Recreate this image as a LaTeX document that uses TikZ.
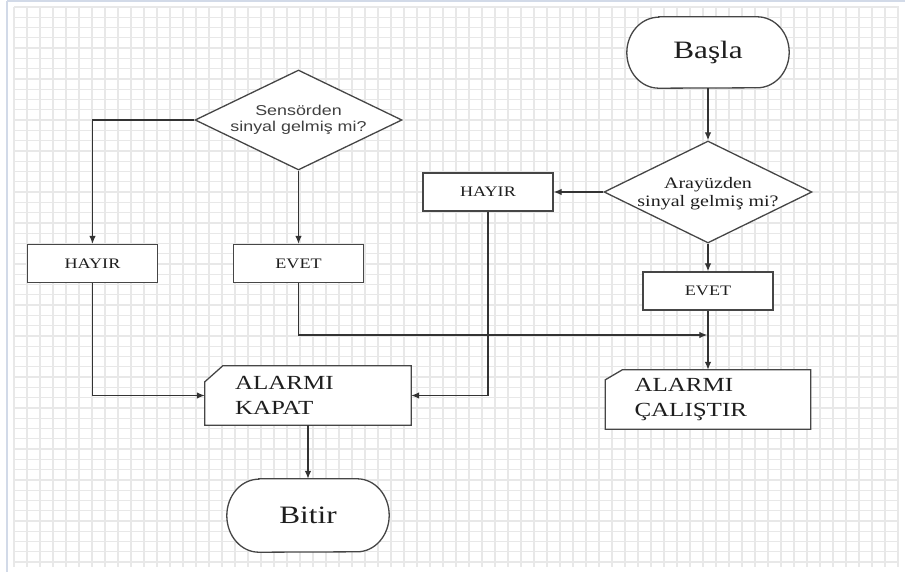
\documentclass[tikz,border=0pt]{standalone}
\usepackage{fontspec}
\setmainfont{Liberation Serif}
\newfontfamily\arialf{Liberation Sans}
\usepackage{graphicx}
\usetikzlibrary{shapes.geometric,arrows.meta}
\newcommand\hstr[1]{\scalebox{1.25}[1]{#1}}
\definecolor{gridc}{RGB}{232,232,232}
\definecolor{edgec}{RGB}{70,70,70}
\definecolor{framec}{RGB}{210,218,232}
\definecolor{txtc}{RGB}{30,30,30}
\pgfdeclarelayer{gridlayer}
\pgfdeclarelayer{shapelayer}
\pgfsetlayers{gridlayer,shapelayer,main}
\begin{document}
\begin{tikzpicture}[x=1pt,y=-1pt,
  box/.style={draw=edgec,line width=1.3pt,fill=white,inner sep=0pt},
  term/.style={inner sep=0pt,minimum width=162pt,minimum height=71pt,font=\fontsize{25}{30}\selectfont,text=txtc},
  smallbox/.style={box,minimum width=130pt,minimum height=38pt,font=\fontsize{14.5}{17}\selectfont,text=txtc},
  dec/.style={box,shape=diamond,minimum width=207pt,minimum height=100pt},
  io/.style={inner sep=0pt,inner xsep=29pt,minimum height=59pt,align=left,text width=147pt,font=\fontsize{20}{24.5}\selectfont,text=txtc},
  conn/.style={draw=black!80,line width=1.2pt,-{Latex[length=8pt,width=6.5pt]}},
  gridl/.style={draw=gridc,line width=1.3pt},
  framel/.style={draw=framec,line width=1.5pt}]
\useasboundingbox (0,0) rectangle (905,572);
\begin{pgfonlayer}{gridlayer}
  \fill[white] (0,0) rectangle (905,572);
  \foreach \i in {0,...,68} \draw[gridl] (14+13*\i,7) -- (14+13*\i,567);
  \foreach \j in {0,...,54} \draw[gridl] (14,7+10.28*\j) -- (899,7+10.28*\j);
  \draw[framel] (7,0.8) -- (7,572);
  \draw[framel] (7,0.8) -- (905,0.8);
\end{pgfonlayer}

% terminals
\node[term] (basla) at (708,52.5) {\hstr{Başla}};
\node[term,minimum height=73pt] (bitir) at (308,515.5) {\hstr{Bitir}};

% decisions
\node[dec] (d1) at (298.5,120) {};
\node[font=\arialf\fontsize{14.3}{15.5}\selectfont,text=black!75,align=center,inner sep=0pt] (d1t) at (d1.center) {\hstr{Sensörden}\\\hstr{sinyal gelmiş mi?}};
\node[dec,minimum width=208pt,minimum height=102pt] (d2) at (708,192) {};
\node[font=\fontsize{16}{18}\selectfont,text=txtc,align=center,inner sep=0pt] (d2t) at ([yshift=-2pt]d2.center) {\hstr{Arayüzden}\\\hstr{sinyal gelmiş mi?}};

% small boxes
\node[smallbox] (hayirL) at (92.5,263.5) {\hstr{HAYIR}};
\node[smallbox] (evetL) at (298.5,263.5) {\hstr{EVET}};
\node[smallbox] (hayirR) at (488,192) {\hstr{HAYIR}};
\node[smallbox] (evetR) at (708,291) {\hstr{EVET}};

% io boxes
\node[io,inner xsep=30pt,text width=146pt] (kapat) at (308,395.5) {\hstr{ALARMI}\\\hstr{KAPAT}};
\node[io] (calistir) at (708,399.5) {\hstr{ALARMI}\\\hstr{ÇALIŞTIR}};
\begin{pgfonlayer}{shapelayer}
  \draw[box] ([yshift=-16pt]kapat.north west) -- ([xshift=18pt]kapat.north west) -- (kapat.north east) -- (kapat.south east) -- (kapat.south west) -- cycle;
  \draw[box] ([yshift=-10pt]calistir.north west) -- ([xshift=17pt]calistir.north west) -- (calistir.north east) -- (calistir.south east) -- (calistir.south west) -- cycle;
  \draw[box] ([xshift=32pt]basla.north west) -- ([xshift=-32pt]basla.north east)
     arc[start angle=90,end angle=-90,x radius=32pt,y radius=35.5pt]
     -- ([xshift=32pt]basla.south west)
     arc[start angle=270,end angle=90,x radius=32pt,y radius=35.5pt] -- cycle;
  \draw[box] ([xshift=32pt]bitir.north west) -- ([xshift=-32pt]bitir.north east)
     arc[start angle=90,end angle=-90,x radius=32pt,y radius=36.5pt]
     -- ([xshift=32pt]bitir.south west)
     arc[start angle=270,end angle=90,x radius=32pt,y radius=36.5pt] -- cycle;
\end{pgfonlayer}

% connectors
\coordinate (j) at (707.3,335);
\draw[conn] (basla.south) -- (d2.north);
\draw[conn] (d2.west) -- (hayirR.east);
\draw[conn] (d2.south) -- (evetR.north);
\draw[conn] (evetR.south) -- (calistir.north);
\draw[conn] (d1.west) -| (hayirL.north);
\draw[conn] (d1.south) -- (evetL.north);
\draw[conn] (evetL.south) |- (j);
\draw[conn] (hayirL.south) |- (kapat.west);
\draw[conn] (hayirR.south) |- (kapat.east);
\draw[conn] (kapat.south) -- (bitir.north);
\end{tikzpicture}
\end{document}
